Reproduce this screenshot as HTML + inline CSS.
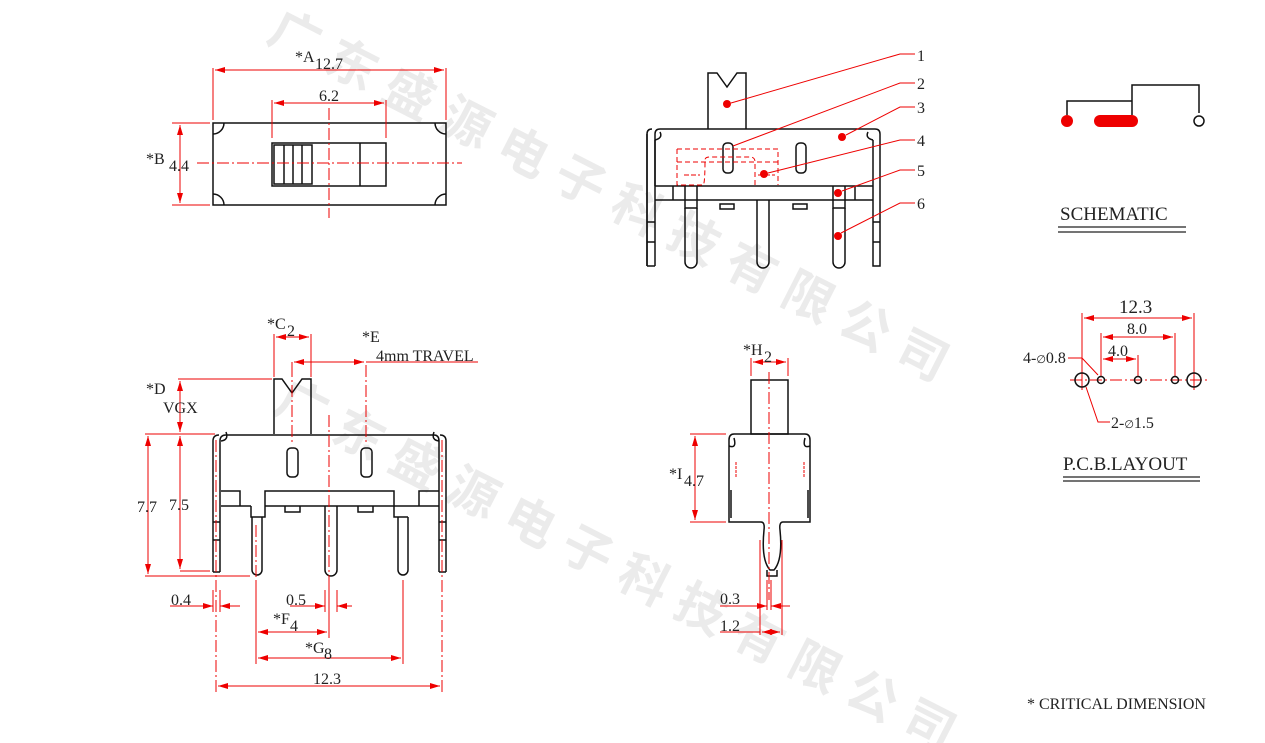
<!DOCTYPE html>
<html><head><meta charset="utf-8"><style>
html,body{margin:0;padding:0;background:#fff;width:1265px;height:743px;overflow:hidden}
svg{display:block;overflow:hidden}
text{font-family:"Liberation Serif",serif;fill:#222}
.k{stroke:#111;stroke-width:1.5;fill:none}
.r{stroke:#e00;stroke-width:1;fill:none}
.c{stroke:#e00;stroke-width:1;fill:none;stroke-dasharray:12 3 2 3}
.wm{font-family:"Noto Sans CJK SC","WenQuanYi Zen Hei",sans-serif;fill:#ebebeb;font-size:50px;font-weight:bold}
</style></head><body>
<svg width="1265" height="743" viewBox="0 0 1265 743" xmlns="http://www.w3.org/2000/svg">
<defs>
<marker id="a" viewBox="0 0 10 6" refX="10" refY="3" markerWidth="10" markerHeight="6" orient="auto-start-reverse" markerUnits="userSpaceOnUse"><path d="M0,0 L10,3 L0,6 z" fill="#e00"/></marker>
</defs>
<text class="wm" transform="translate(265,40) rotate(27)" letter-spacing="14">广东盛源电子科技有限公司</text>
<text class="wm" transform="translate(272,410) rotate(27)" letter-spacing="14">广东盛源电子科技有限公司</text>

<!-- TOP VIEW -->
<rect x="213" y="123" width="233" height="82" class="k"/>
<path class="k" d="M213,134 a11,11 0 0 0 11,-11 M446,134 a11,11 0 0 1 -11,-11 M213,194 a11,11 0 0 1 11,11 M446,194 a11,11 0 0 0 -11,11" stroke-width="1.2"/>
<rect x="272" y="143" width="114" height="43" class="k"/>
<rect x="274" y="145" width="38" height="39" class="k" stroke-width="1.2"/>
<path class="k" stroke-width="1.2" d="M284,145V184 M293,145V184 M302,145V184 M360,143V186"/>
<path class="c" d="M329,108V218 M197,163H462"/>
<path class="r" d="M213,68V120 M446,68V120 M272,100V138 M386,100V138 M172,123H210 M172,205H210"/>
<line class="r" x1="215" y1="70" x2="444" y2="70" marker-start="url(#a)" marker-end="url(#a)"/>
<line class="r" x1="274" y1="103" x2="384" y2="103" marker-start="url(#a)" marker-end="url(#a)"/>
<line class="r" x1="180" y1="125" x2="180" y2="203" marker-start="url(#a)" marker-end="url(#a)"/>
<text x="295" y="62" font-size="16">*A</text><text x="315" y="69" font-size="16">12.7</text>
<text x="319" y="101" font-size="16">6.2</text>
<text x="146" y="164" font-size="16">*B</text><text x="169" y="171" font-size="16">4.4</text>

<!-- FRONT VIEW top -->
<path class="k" d="M708,129V73H717L727,87L737,73H746V129"/>
<path class="k" d="M655,266V134Q655,129 660,129H875Q880,129 880,134V266H873V140 M647,266V134Q647,129 652,129 M655,266H647 M880,266H873"/>
<path class="k" d="M647,134V266 M655,140V186 M655,186H873 M655,200H873 M685,186V208H697V186 M833,186V208H845V186 M673,186V200 M855,186V200"/>
<path class="k" d="M685,208V262a6,6 0 0 0 12,0V208 M757,200V262a6,6 0 0 0 12,0V200 M833,208V262a6,6 0 0 0 12,0V208"/>
<rect x="720" y="204" width="14" height="5" class="k" stroke-width="1.2"/><rect x="793" y="204" width="14" height="5" class="k" stroke-width="1.2"/>
<rect x="723" y="143" width="10" height="30" rx="4" class="k" stroke-width="1.3"/>
<rect x="796" y="143" width="10" height="30" rx="4" class="k" stroke-width="1.3"/>
<path class="k" stroke-width="1.2" d="M655,140Q663,138 660,132 M873,140Q865,138 868,132 M647,222H655 M647,242H655 M873,222H880 M873,242H880"/>
<path class="r" stroke-dasharray="5 3" d="M677,149H778V185 M677,149V185H703Q705,185 705,160Q705,157 710,157H750Q755,157 755,162V185 M677,162H778"/>
<path class="r" stroke-dasharray="5 2" d="M684,175H700 M758,175H775"/>
<g fill="#e00">
<circle cx="727" cy="104" r="4"/><circle cx="764" cy="174" r="4"/><circle cx="842" cy="137" r="4"/><circle cx="838" cy="193" r="4"/><circle cx="838" cy="236" r="4"/></g>
<g class="r">
<path d="M731,103L900,54H915"/><path d="M733,146L900,83H915"/><path d="M846,135L900,107H915"/><path d="M768,173L900,140H915"/><path d="M842,191L900,170H915"/><path d="M841,233L900,203H915"/>
</g>
<g font-size="16"><text x="917" y="61">1</text><text x="917" y="89">2</text><text x="917" y="113">3</text><text x="917" y="146">4</text><text x="917" y="176">5</text><text x="917" y="209">6</text></g>

<!-- FRONT VIEW bottom-left -->
<path class="k" d="M274,434V379H282L292,393L302,379H311V434"/>
<path class="k" d="M220,572V441Q220,435 226,435H434Q439,435 439,441V572 M213,572V441Q213,435 219,435 M446,572V441Q446,435 440,435 M213,572H220 M439,572H446 M213,441V572 M446,441V572"/>
<path class="k" d="M221,491H240V506H251 M221,506H240 M265,506V491H394V506H408 M439,491H419V506 M408,506H439 M265,506V517H251V506"/>
<path class="k" d="M394,506V517H408"/>
<path class="k" d="M252,517V570a5,5 0 0 0 10,0V517 M325,506V570a6,6 0 0 0 12,0V506 M398,517V570a5,5 0 0 0 10,0V517"/>
<path class="k" stroke-width="1.2" d="M265,506H394 M285,506V512H300V506 M358,506V512H373V506 M221,441Q229,440 226,432 M439,441Q431,440 434,432 M213,522H220 M213,540H220 M439,522H446 M439,540H446"/>
<rect x="287" y="448" width="11" height="29" rx="4" class="k" stroke-width="1.3"/>
<rect x="361" y="448" width="11" height="29" rx="4" class="k" stroke-width="1.3"/>
<path class="c" d="M329,415V610 M292,365V445 M366,365V445 M216,440V695 M442,440V695 M256,525V590"/>
<path class="r" d="M274,334V377 M311,334V377 M178,379H272 M145,434H215 M145,576H250 M180,571H210 M256,580V664 M403,580V664 M329,580V638 M220,590V612 M213,590V612 M325,590V612 M337,590V612 M292,362V368 M366,362H478"/>
<line class="r" x1="276" y1="337" x2="309" y2="337" marker-start="url(#a)" marker-end="url(#a)"/>
<line class="r" x1="294" y1="362" x2="364" y2="362" marker-start="url(#a)" marker-end="url(#a)"/>
<line class="r" x1="180" y1="381" x2="180" y2="432" marker-start="url(#a)" marker-end="url(#a)"/>
<line class="r" x1="180" y1="436" x2="180" y2="569" marker-start="url(#a)" marker-end="url(#a)"/>
<line class="r" x1="148" y1="436" x2="148" y2="574" marker-start="url(#a)" marker-end="url(#a)"/>
<path class="r" d="M170,606H213 M220,606H240 M290,606H325 M337,606H352"/>
<line class="r" x1="200" y1="606" x2="213" y2="606" marker-end="url(#a)"/><line class="r" x1="238" y1="606" x2="220" y2="606" marker-end="url(#a)"/>
<line class="r" x1="310" y1="606" x2="325" y2="606" marker-end="url(#a)"/><line class="r" x1="352" y1="606" x2="337" y2="606" marker-end="url(#a)"/>
<line class="r" x1="258" y1="632" x2="327" y2="632" marker-start="url(#a)" marker-end="url(#a)"/>
<line class="r" x1="258" y1="658" x2="401" y2="658" marker-start="url(#a)" marker-end="url(#a)"/>
<line class="r" x1="218" y1="686" x2="440" y2="686" marker-start="url(#a)" marker-end="url(#a)"/>
<g font-size="16">
<text x="267" y="329">*C</text><text x="287" y="336">2</text>
<text x="362" y="342">*E</text><text x="376" y="361">4mm TRAVEL</text>
<text x="146" y="394">*D</text><text x="163" y="413">VGX</text>
<text x="137" y="512">7.7</text><text x="169" y="510">7.5</text>
<text x="171" y="605">0.4</text><text x="286" y="605">0.5</text>
<text x="273" y="624">*F</text><text x="290" y="631">4</text>
<text x="305" y="653">*G</text><text x="324" y="659">8</text>
<text x="313" y="684">12.3</text>
</g>

<!-- SIDE VIEW -->
<rect x="751" y="380" width="37" height="54" class="k"/>
<path class="k" d="M734,434H805Q810,434 810,440V522H783Q779,522 780,530Q783,560 774,570H770Q761,560 764,530Q765,522 761,522H729V440Q729,434 734,434"/>
<path class="k" stroke-width="1.2" d="M729,446Q737,449 734,438 M810,446Q802,449 805,438 M767,570V576H777V570 M731,490V518 M808,490V518"/>
<path class="r" stroke-width="2" stroke-dasharray="3 1" d="M736,462V478 M804,462V478"/>
<path class="c" d="M769,372V600"/>
<path class="r" d="M751,358V376 M788,358V376 M690,434H726 M690,522H726 M760,540V635 M782,540V635 M767,580V610 M771,580V610"/>
<line class="r" x1="753" y1="362" x2="786" y2="362" marker-start="url(#a)" marker-end="url(#a)"/>
<line class="r" x1="695" y1="436" x2="695" y2="520" marker-start="url(#a)" marker-end="url(#a)"/>
<path class="r" d="M720,606H767 M771,606H790 M720,632H760"/>
<line class="r" x1="755" y1="606" x2="767" y2="606" marker-end="url(#a)"/><line class="r" x1="785" y1="606" x2="771" y2="606" marker-end="url(#a)"/>
<line class="r" x1="762" y1="632" x2="780" y2="632" marker-start="url(#a)" marker-end="url(#a)"/>
<g font-size="16"><text x="743" y="355">*H</text><text x="764" y="362">2</text>
<text x="669" y="479">*I</text><text x="684" y="486">4.7</text>
<text x="720" y="604">0.3</text><text x="720" y="631">1.2</text></g>

<!-- SCHEMATIC -->
<path class="k" d="M1067,115V101H1132 M1132,115V85H1199V113"/>
<circle cx="1067" cy="121" r="6" fill="#e00"/>
<rect x="1094" y="115" width="44" height="12" rx="6" fill="#e00"/>
<circle cx="1199" cy="121" r="5" class="k"/>
<text x="1060" y="220" font-size="19">SCHEMATIC</text>
<path d="M1058,227H1186 M1058,232H1186" stroke="#222" stroke-width="1.2"/>

<!-- PCB -->
<path class="c" d="M1070,380H1207"/>
<path class="r" d="M1082,313V390 M1194,313V390 M1101,333V376 M1175,333V376 M1138,355V376"/>
<line class="r" x1="1084" y1="318" x2="1192" y2="318" marker-start="url(#a)" marker-end="url(#a)"/>
<line class="r" x1="1103" y1="337" x2="1173" y2="337" marker-start="url(#a)" marker-end="url(#a)"/>
<line class="r" x1="1103" y1="359" x2="1136" y2="359" marker-start="url(#a)" marker-end="url(#a)"/>
<path class="r" d="M1068,358H1082L1098,375"/>
<path class="r" d="M1110,422H1098L1086,387"/>
<circle cx="1082" cy="380" r="7" class="k" stroke-width="1.4"/><circle cx="1194" cy="380" r="7" class="k" stroke-width="1.4"/>
<circle cx="1101" cy="380" r="3.5" class="k" stroke-width="1.3"/><circle cx="1138" cy="380" r="3.5" class="k" stroke-width="1.3"/><circle cx="1175" cy="380" r="3.5" class="k" stroke-width="1.3"/>
<text x="1119" y="313" font-size="19">12.3</text>
<text x="1127" y="334" font-size="16">8.0</text>
<text x="1108" y="356" font-size="16">4.0</text>
<text x="1023" y="363" font-size="16">4-<tspan font-size="11">∅</tspan>0.8</text>
<text x="1111" y="428" font-size="16">2-<tspan font-size="11">∅</tspan>1.5</text>
<text x="1063" y="470" font-size="19">P.C.B.LAYOUT</text>
<path d="M1063,477H1200 M1063,481H1200" stroke="#222" stroke-width="1.2"/>

<text x="1027" y="709" font-size="16">* CRITICAL  DIMENSION</text>
</svg>
</body></html>
